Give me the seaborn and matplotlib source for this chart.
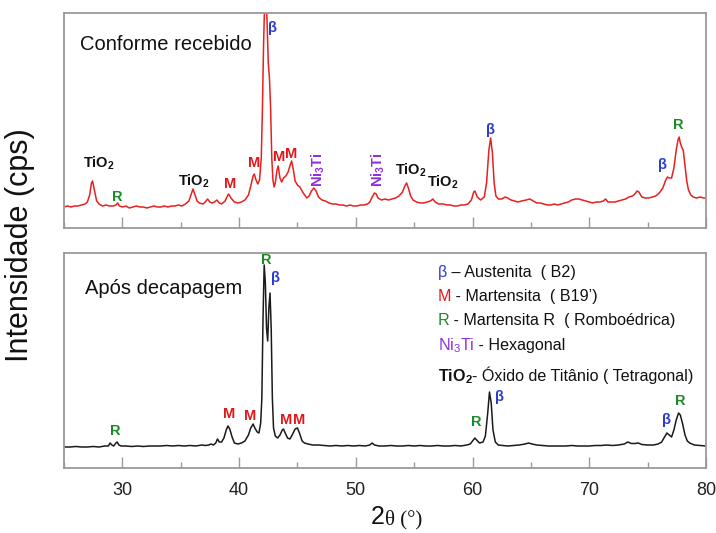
import matplotlib
matplotlib.use("Agg")
import matplotlib.pyplot as plt
import seaborn as sns
import pandas as pd
from matplotlib.ticker import MultipleLocator

# ---------------- data ----------------
# Top pattern: "Conforme recebido" (as received), 2theta vs intensity (a.u.)
top_2theta = [25.0, 25.3, 25.6, 25.9, 26.2, 26.5, 26.8, 27.0, 27.2, 27.35, 27.45, 27.6, 27.8, 28.0, 28.3, 28.6,
              28.9, 29.2, 29.45, 29.6, 29.75, 30.0, 30.3, 30.6, 30.9, 31.2, 31.5, 31.8, 32.1, 32.4, 32.7, 33.0,
              33.3, 33.6, 33.9, 34.2, 34.5, 34.8, 35.1, 35.4, 35.7, 35.9, 36.05, 36.2, 36.4, 36.6, 36.9, 37.1,
              37.3, 37.5, 37.7, 37.9, 38.1, 38.3, 38.5, 38.8, 39.0, 39.1, 39.3, 39.6, 39.9, 40.2, 40.5, 40.8,
              41.0, 41.2, 41.3, 41.45, 41.6, 41.75, 41.9, 42.0, 42.1, 42.2, 42.3, 42.4, 42.5, 42.6, 42.7, 42.8,
              42.9, 43.0, 43.1, 43.25, 43.35, 43.5, 43.65, 43.8, 44.0, 44.2, 44.35, 44.5, 44.65, 44.8, 45.0, 45.2,
              45.5, 45.8, 46.0, 46.2, 46.4, 46.6, 46.8, 47.1, 47.4, 47.7, 48.0, 48.3, 48.6, 48.9, 49.2, 49.5,
              49.8, 50.1, 50.4, 50.7, 51.0, 51.2, 51.4, 51.6, 51.75, 51.9, 52.2, 52.5, 52.8, 53.1, 53.4, 53.7,
              54.0, 54.2, 54.35, 54.5, 54.7, 54.9, 55.2, 55.5, 55.8, 56.1, 56.4, 56.6, 56.8, 57.1, 57.5, 57.8,
              58.1, 58.4, 58.7, 59.0, 59.3, 59.6, 59.9, 60.1, 60.2, 60.4, 60.7, 61.0, 61.2, 61.4, 61.55, 61.7,
              61.85, 62.0, 62.2, 62.5, 62.8, 63.0, 63.3, 63.6, 63.9, 64.2, 64.6, 64.9, 65.2, 65.5, 65.8, 66.1,
              66.4, 66.7, 67.0, 67.3, 67.6, 67.9, 68.2, 68.5, 68.8, 69.1, 69.4, 69.7, 70.0, 70.3, 70.6, 70.9,
              71.2, 71.4, 71.6, 71.9, 72.2, 72.5, 72.8, 73.1, 73.4, 73.7, 73.9, 74.1, 74.25, 74.5, 74.8, 75.1,
              75.4, 75.7, 76.0, 76.3, 76.55, 76.7, 76.85, 77.05, 77.25, 77.45, 77.6, 77.7, 77.8, 77.95, 78.05, 78.2,
              78.35, 78.5, 78.7, 78.9, 79.2, 79.5, 79.8, 80.0]
top_intensity = [21, 22, 21, 22, 22, 23, 24, 26, 33, 45, 47, 38, 27, 24, 22, 23,
                 22, 22, 23, 25, 22, 21, 22, 20, 21, 22, 21, 21, 20, 21, 22, 21,
                 21, 22, 21, 22, 22, 23, 22, 24, 27, 34, 39, 34, 27, 25, 24, 26,
                 29, 26, 25, 26, 28, 25, 24, 27, 32, 34, 30, 26, 25, 26, 28, 33,
                 42, 52, 54, 48, 44, 48, 70, 120, 185, 230, 235, 205, 165, 150, 120, 70,
                 48, 41, 45, 58, 62, 50, 46, 50, 52, 56, 62, 67, 58, 47, 43, 41,
                 35, 30, 32, 37, 40, 37, 31, 28, 27, 25, 24, 24, 23, 23, 22, 23,
                 22, 22, 23, 23, 24, 26, 31, 35, 34, 30, 28, 29, 28, 29, 30, 32,
                 36, 42, 45, 40, 32, 28, 26, 25, 25, 26, 27, 29, 26, 24, 24, 23,
                 23, 22, 22, 23, 23, 24, 28, 36, 37, 31, 28, 31, 45, 78, 90, 75,
                 45, 32, 29, 29, 31, 30, 28, 27, 26, 27, 28, 29, 27, 25, 25, 24,
                 23, 23, 24, 23, 24, 25, 26, 28, 29, 29, 28, 27, 26, 25, 26, 26,
                 27, 29, 26, 26, 26, 27, 28, 29, 31, 32, 34, 37, 36, 31, 30, 30,
                 31, 32, 35, 40, 48, 51, 50, 50, 60, 78, 88, 91, 85, 80, 78, 62,
                 47, 38, 33, 31, 30, 31, 30, 30]

# Bottom pattern: "Após decapagem" (after pickling)
bot_2theta = [25.0, 25.5, 26.0, 26.5, 27.0, 27.5, 28.0, 28.5, 28.8, 28.95, 29.1, 29.25, 29.45, 29.55, 29.7, 29.9,
              30.3, 30.8, 31.3, 31.8, 32.3, 32.8, 33.3, 33.8, 34.3, 34.8, 35.3, 35.8, 36.3, 36.8, 37.1, 37.4,
              37.6, 37.8, 38.0, 38.15, 38.3, 38.5, 38.7, 38.9, 39.05, 39.2, 39.4, 39.6, 39.9, 40.2, 40.5, 40.8,
              41.0, 41.2, 41.35, 41.55, 41.7, 41.85, 41.95, 42.05, 42.15, 42.25, 42.35, 42.45, 42.55, 42.65, 42.75, 42.85,
              42.95, 43.1, 43.3, 43.5, 43.7, 43.8, 43.95, 44.15, 44.35, 44.55, 44.8, 45.0, 45.2, 45.4, 45.6, 45.9,
              46.3, 46.8, 47.3, 47.8, 48.3, 48.8, 49.3, 49.8, 50.3, 50.8, 51.2, 51.4, 51.6, 52.0, 52.5, 53.0,
              53.5, 54.0, 54.5, 55.0, 55.5, 56.0, 56.5, 57.0, 57.5, 58.0, 58.5, 59.0, 59.5, 59.8, 60.0, 60.2,
              60.35, 60.6, 60.9, 61.1, 61.3, 61.45, 61.6, 61.75, 61.95, 62.2, 62.6, 63.0, 63.5, 64.0, 64.5, 64.8,
              65.1, 65.5, 66.0, 66.5, 67.0, 67.5, 68.0, 68.5, 69.0, 69.5, 70.0, 70.5, 71.0, 71.5, 72.0, 72.5,
              73.0, 73.3, 73.6, 73.9, 74.2, 74.5, 75.0, 75.5, 75.9, 76.2, 76.45, 76.65, 76.85, 77.05, 77.25, 77.45,
              77.65, 77.8, 78.0, 78.2, 78.4, 78.6, 79.0, 79.5, 80.0]
bot_intensity = [21, 21, 21.5, 21, 21, 21.5, 21, 22, 22, 25, 23, 22, 25, 26, 23, 22,
                 22, 21.5, 22, 21.5, 22, 22, 22, 22.5, 22, 22.5, 22, 22.5, 22, 23, 22.5, 23,
                 24, 23, 25, 29, 26, 26, 30, 38, 42, 39, 31, 25, 24, 25, 27, 33,
                 40, 44, 40, 36, 35, 45, 70, 150, 203, 185, 140, 127, 160, 175, 140, 70,
                 40, 32, 30, 33, 38, 39, 35, 30, 29, 33, 39, 40, 34, 27, 25, 24,
                 23, 23, 22.5, 22, 22.5, 22, 22.5, 22, 22.5, 22, 23, 25, 23, 22, 22, 22.5,
                 22, 22, 22.5, 22, 22.5, 22, 22, 22.5, 22, 22, 22.5, 22, 23, 24, 27, 30,
                 28, 25, 26, 32, 55, 76, 65, 38, 26, 23, 22.5, 22, 22.5, 23, 24, 25,
                 24, 23, 22.5, 22, 22, 22, 22, 22.5, 22, 22, 22, 22.5, 22.5, 23, 22.5, 23,
                 24, 26, 24.5, 24.5, 25, 23.5, 23, 23, 24, 26, 31, 35, 33, 31, 38, 48,
                 55, 53, 44, 33, 27, 25, 23, 22.5, 22]

panel_titles = ["Conforme recebido", "Após decapagem"]
x_ticks = [30, 40, 50, 60, 70, 80]

# Phase labels: (text, 2theta, height, colour key, rotation)
top_labels = [("TiO$_2$", 28.0, 65, "k", 0), ("R", 29.6, 31, "g", 0), ("TiO$_2$", 36.1, 47, "k", 0),
              ("M", 39.2, 44, "r", 0), ("M", 41.3, 65, "r", 0), ("β", 42.9, 200, "b", 0),
              ("M", 43.4, 71, "r", 0), ("M", 44.5, 74, "r", 0), ("Ni$_3$Ti", 46.8, 58, "p", 90),
              ("Ni$_3$Ti", 51.9, 58, "p", 90), ("TiO$_2$", 54.7, 58, "k", 0), ("TiO$_2$", 57.5, 46, "k", 0),
              ("β", 61.5, 98, "b", 0), ("β", 76.3, 63, "b", 0), ("R", 77.6, 103, "g", 0)]
bot_labels = [("R", 29.4, 37, "g", 0), ("M", 39.15, 54, "r", 0), ("M", 40.95, 52, "r", 0),
              ("R", 42.35, 208, "g", 0), ("β", 43.1, 190, "b", 0), ("M", 44.0, 48, "r", 0),
              ("M", 45.15, 48, "r", 0), ("R", 60.35, 46, "g", 0), ("β", 62.3, 71, "b", 0),
              ("β", 76.65, 48, "b", 0), ("R", 77.8, 67, "g", 0)]

legend_symbols = ["β", "M", "R", "Ni$_3$Ti", "TiO$_2$"]
legend_texts = [" – Austenita  ( B2)", " - Martensita  ( B19’)", " - Martensita R  ( Romboédrica)",
                " - Hexagonal", "- Óxido de Titânio ( Tetragonal)"]
legend_colors = ["b", "r", "g", "p", "k"]

# ---------------- styling ----------------
sns.set_theme(style="white")
plt.rcParams["font.family"] = ["Liberation Sans", "DejaVu Sans"]
plt.rcParams["mathtext.fontset"] = "custom"
plt.rcParams["mathtext.rm"] = "Liberation Sans"
plt.rcParams["mathtext.bf"] = "Liberation Sans:bold"
plt.rcParams["mathtext.default"] = "regular"

palette = {"k": "#111111", "r": "#e3161b", "g": "#1d8a2a", "b": "#2a3bd0", "p": "#8f2ee0"}
frame_col = "#9a9a9a"

fig = plt.figure(figsize=(7.16, 5.33), dpi=100)
ax_top = fig.add_axes([64 / 716, 1 - 228 / 533, 642 / 716, 215 / 533])
ax_bot = fig.add_axes([64 / 716, 1 - 468 / 533, 642 / 716, 215 / 533])

df_top = pd.DataFrame({"2theta": top_2theta, "I": top_intensity})
df_bot = pd.DataFrame({"2theta": bot_2theta, "I": bot_intensity})

sns.lineplot(data=df_top, x="2theta", y="I", ax=ax_top, color="#e8201f", lw=1.1, estimator=None)
sns.lineplot(data=df_bot, x="2theta", y="I", ax=ax_bot, color="#1a1a1a", lw=1.1, estimator=None)

for ax in (ax_top, ax_bot):
    ax.set_xlim(25, 80)
    ax.set_ylim(0, 215)
    ax.set_xlabel("")
    ax.set_ylabel("")
    ax.set_yticks([])
    ax.xaxis.set_major_locator(MultipleLocator(10))
    ax.xaxis.set_minor_locator(MultipleLocator(5))
    ax.tick_params(axis="x", which="major", direction="in", length=8, width=1, color=frame_col,
                   bottom=True, top=False, labelsize=13, pad=10, labelcolor="#222222")
    ax.tick_params(axis="x", which="minor", direction="in", length=4, width=1, color=frame_col,
                   bottom=True, top=False)
    for s in ax.spines.values():
        s.set_color(frame_col)
        s.set_linewidth(1.3)
ax_top.tick_params(axis="x", labelbottom=False)
ax_bot.set_xticks(x_ticks)

# panel titles
ax_top.text(26.4, 183, panel_titles[0], fontsize=14.5, color="#111111", va="center", ha="left")
ax_bot.text(26.8, 180, panel_titles[1], fontsize=14.5, color="#111111", va="center", ha="left")

# phase labels
for ax, labels in ((ax_top, top_labels), (ax_bot, bot_labels)):
    for txt, x, y, c, rot in labels:
        ax.text(x, y, txt, color=palette[c], fontsize=10.5, fontweight="bold",
                ha="center", va="center", rotation=rot)

# legend block in the bottom panel
leg_y = [191, 167, 143, 118, 87]
for sym, rest, c, y in zip(legend_symbols, legend_texts, legend_colors, leg_y):
    w = "bold" if c == "k" else "normal"
    t0 = ax_bot.text(57.0, y, sym, color=palette[c], fontsize=11.6, fontweight=w,
                     ha="left", va="baseline")
    ax_bot.annotate(rest, xy=(1, y), xycoords=(t0, "data"), color="#111111", fontsize=11.6,
                    ha="left", va="baseline")

# axis labels
fig.text(20 / 716, 1 - 245 / 533, "Intensidade (cps)", rotation=90, fontsize=22,
         ha="center", va="center", color="#111111")
t2 = fig.text(371 / 716, 1 - 524 / 533, "2", fontsize=18, ha="left", va="baseline", color="#111111")
fig.add_artist(plt.Annotation("θ (°)", xy=(1, 0), xycoords=t2, fontsize=15,
                              family=["Liberation Serif", "DejaVu Serif"], ha="left", va="bottom",
                              color="#111111"))

fig.savefig("out.png", dpi=100)
